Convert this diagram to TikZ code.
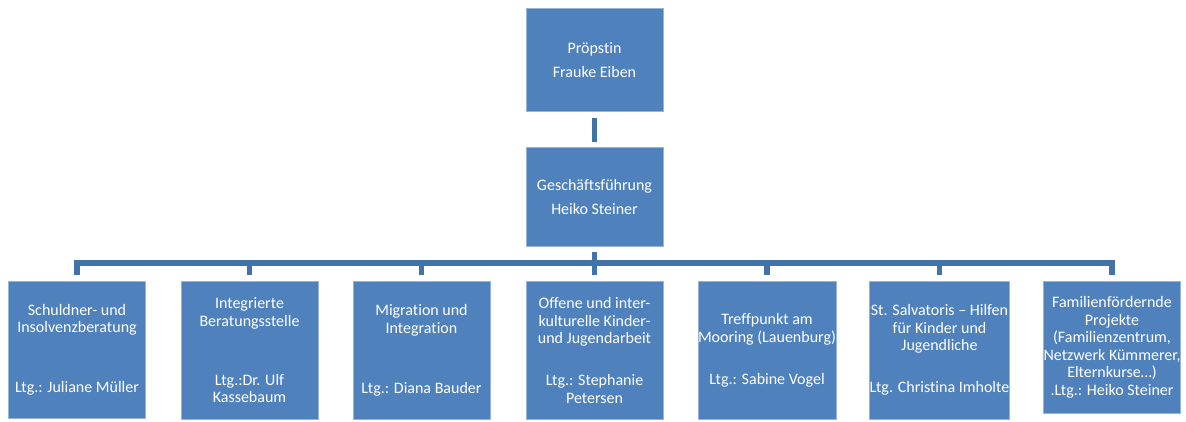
\documentclass[tikz,border=0pt]{standalone}
\usepackage{fontspec}
\setmainfont[Ligatures=NoCommon]{Carlito}
\definecolor{boxblue}{RGB}{79,129,189}
\definecolor{boxedge}{RGB}{150,180,218}
\definecolor{connblue}{RGB}{66,114,168}
\begin{document}
\begin{tikzpicture}[x=1pt,y=-1pt,
  orgbox/.style={rectangle, fill=boxblue, draw=boxedge, line width=0.6pt,
    text=white, align=center, inner sep=0pt, anchor=north,
    minimum width=137pt, font=\fontsize{16}{17.5}\selectfont},
  conn/.style={draw=connblue, line width=5.5pt, line join=miter}]
\useasboundingbox (0,0) rectangle (1186,421);
\node[orgbox, minimum height=103pt] (top) at (594.5,8) {Pröpstin\\[6.5pt]Frauke Eiben};
\node[orgbox, minimum height=99pt] (ges) at (594.5,147) {Geschäftsführung\\[6.5pt]Heiko Steiner};
\node[orgbox, minimum height=137pt] (c1) at (77,281) {Schuldner- und\\Insolvenzberatung\\[42.5pt]Ltg.: Juliane Müller};
\node[orgbox, minimum height=138pt] (c2) at (249.5,281) {Integrierte\\Beratungsstelle\\[41.5pt]Ltg.:Dr. Ulf\\Kassebaum};
\node[orgbox, minimum height=138pt] (c3) at (421.5,281) {Migration und\\Integration\\[42.5pt]Ltg.: Diana Bauder};
\node[orgbox, minimum height=138pt] (c4) at (594.5,281) {Offene und inter-\\kulturelle Kinder-\\und Jugendarbeit\\[24.5pt]Ltg.: Stephanie\\Petersen};
\node[orgbox, minimum height=138pt] (c5) at (767,281) {Treffpunkt am\\Mooring (Lauenburg)\\[24.5pt]Ltg.: Sabine Vogel};
\node[orgbox, minimum height=138pt] (c6) at (939.5,281) {St. Salvatoris – Hilfen\\für Kinder und\\Jugendliche\\[24.5pt]Ltg. Christina Imholte};
\node[orgbox, minimum height=132pt] (c7) at (1112,281) {Familienfördernde\\Projekte\\(Familienzentrum,\\Netzwerk Kümmerer,\\Elternkurse…)\\.Ltg.: Heiko Steiner};
\coordinate (bus) at (594.5,263);
\draw[conn, shorten <=6pt, shorten >=5pt] (top.south) -- (ges.north);
\draw[conn, shorten <=5pt] (ges.south) -- (bus);
\draw[conn, shorten <=6pt, shorten >=6pt] (c1.north) -- (c1.north |- bus) -- (c7.north |- bus) -- (c7.north);
\foreach \c in {c2,c3,c4,c5,c6}
  \draw[conn, shorten >=6pt] (\c.north |- bus) -- (\c.north);
\end{tikzpicture}
\end{document}
